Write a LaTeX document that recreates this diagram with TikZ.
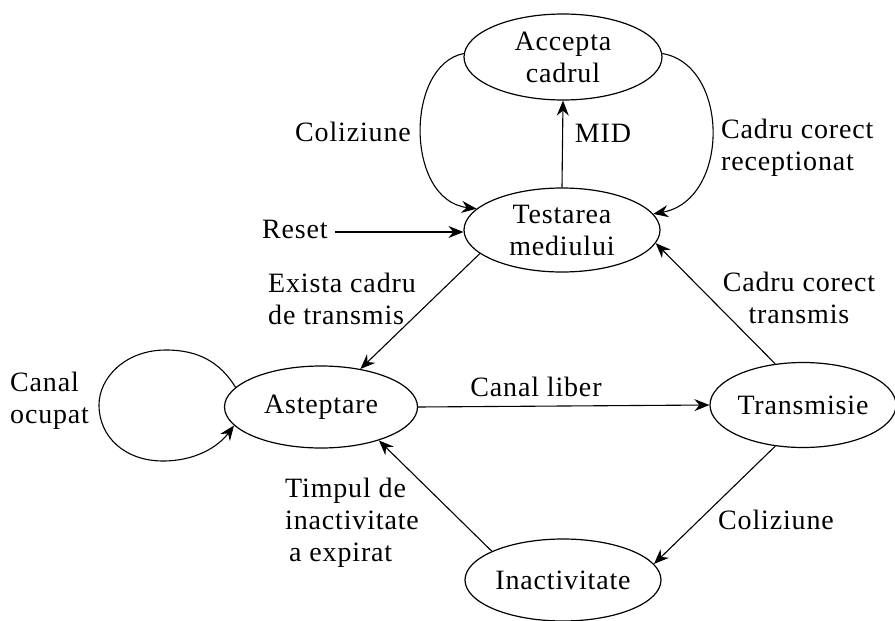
\documentclass[tikz,border=0pt]{standalone}
\usepackage{fontspec}
\setmainfont[LetterSpace=3]{Liberation Serif}
\usetikzlibrary{shapes.geometric,arrows.meta}
\begin{document}
\begin{tikzpicture}[x=1pt,y=-1pt,
  txt/.style={font=\fontsize{28}{32}\selectfont},
  state/.style={draw,ellipse,line width=1.2pt,inner sep=0pt,align=center,txt},
  lbl/.style={inner sep=0pt,txt},
  edge/.style={line width=1.1pt,-{Stealth[length=15pt,width=12pt,inset=5pt]}},
]
\useasboundingbox (0,0) rectangle (895,621);
\fill[white] (0,0) rectangle (895,621);
\begin{scope}
\clip (0,0) rectangle (895,621);
\node[state,minimum width=198pt,minimum height=86pt] (acc) at (563,57) {Accepta\\cadrul};
\node[state,minimum width=196pt,minimum height=84pt] (tst) at (562,230) {Testarea\\mediului};
\node[state,minimum width=193pt,minimum height=82pt] (ast) at (321,407) {Asteptare};
\node[state,minimum width=186pt,minimum height=85pt] (trn) at (803,405) {Transmisie};
\node[state,minimum width=196pt,minimum height=82pt] (ina) at (563,580) {Inactivitate};
\end{scope}

\node[lbl] (mid) at (603,133) {MID};
\node[lbl] (col1) at (353,132) {Coliziune};
\node[lbl,align=left,anchor=west] (ccr) at (721,148) {Cadru corect\\receptionat};
\node[lbl] (reset) at (295,229) {Reset};
\node[lbl,align=left,anchor=west] (exc) at (268,299) {Exista cadru\\de transmis};
\node[lbl,align=center] (cct) at (799,298) {Cadru corect\\transmis};
\node[lbl] (cl) at (536,387) {Canal liber};
\node[lbl,align=left,anchor=west] (co) at (10,401) {Canal\\ocupat};
\node[lbl,align=left,anchor=west] (tim) at (285,523) {Timpul de\\inactivitate\\\hspace{4pt}a expirat};
\node[lbl] (col2) at (776,520) {Coliziune};

\coordinate (rs) at (335,232);
\draw[edge] (tst.90) -- (acc.270);
\draw[edge] (acc.178) .. controls (405,65) and (405,200) .. (tst.166);
\draw[edge] (acc.2) .. controls (730,65) and (730,200) .. (tst.10);
\draw[edge] (rs) -- (tst.west |- rs);
\draw[edge] (tst.196) -- (ast.44);
\draw[edge] (ast.east) -- (trn.west);
\draw[edge] (trn.124) -- (tst.352);
\draw[edge] (trn.236) -- (ina.10);
\draw[edge] (ina.158) -- (ast.330);
\draw[edge] (ast.167) .. controls (220,362) and (198,350) .. (166,350)
  .. controls (125,350) and (99,378) .. (99,405)
  .. controls (99,437) and (125,461) .. (163,461)
  .. controls (195,461) and (218,447) .. (ast.192);
\end{tikzpicture}
\end{document}
